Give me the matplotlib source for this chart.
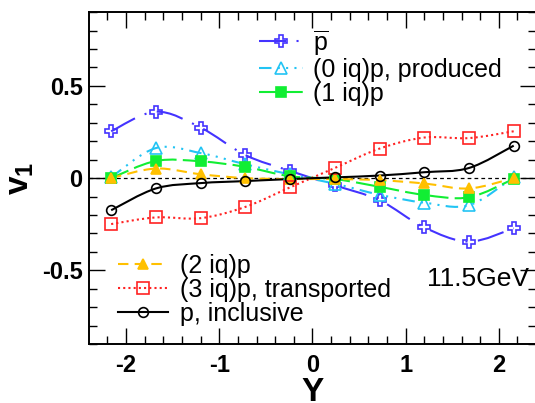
import numpy as np
import matplotlib
matplotlib.use("Agg")
import matplotlib.pyplot as plt
from matplotlib.path import Path
from matplotlib.patches import PathPatch
from matplotlib.lines import Line2D

plt.rcParams['font.family'] = ['Liberation Sans', 'DejaVu Sans']
plt.rcParams['mathtext.fontset'] = 'custom'
plt.rcParams['mathtext.rm'] = 'Liberation Sans'
plt.rcParams['mathtext.bf'] = 'Liberation Sans:bold'

# rapidity bins
rap = [-2.16, -1.68, -1.2, -0.72, -0.24, 0.24, 0.72, 1.2, 1.68, 2.16]

# v1 values
v1_pbar = [0.254, 0.36, 0.274, 0.125, 0.039, -0.039, -0.12, -0.267, -0.344, -0.272]
v1_0iq = [0.005, 0.163, 0.136, 0.075, 0.02, -0.03, -0.09, -0.133, -0.147, 0.005]
v1_1iq = [0.0, 0.093, 0.091, 0.061, 0.01, -0.005, -0.047, -0.091, -0.104, -0.004]
v1_2iq = [0.0, 0.052, 0.021, 0.0, -0.005, -0.005, -0.011, -0.029, -0.056, 0.0]
v1_3iq = [-0.249, -0.213, -0.217, -0.156, -0.05, 0.055, 0.16, 0.22, 0.217, 0.254]
v1_incl = [-0.174, -0.056, -0.027, -0.016, -0.005, 0.004, 0.014, 0.032, 0.055, 0.176]

labels = [r'$\overline{\mathrm{p}}$', '(0 iq)p, produced', '(1 iq)p',
          '(2 iq)p', '(3 iq)p, transported', 'p, inclusive']


def smooth_path(xs, ys):
    # catmull-rom curve through the points, as bezier segments
    p = np.column_stack([xs, ys])
    q = np.vstack([p[0], p, p[-1]])
    verts = [p[0]]
    codes = [Path.MOVETO]
    for i in range(len(p) - 1):
        c1 = q[i + 1] + (q[i + 2] - q[i]) / 6.0
        c2 = q[i + 2] - (q[i + 3] - q[i + 1]) / 6.0
        verts += [c1, c2, q[i + 2]]
        codes += [Path.CURVE4] * 3
    return Path(verts, codes)


fig = plt.figure(figsize=(5.35, 4.03), dpi=100)
ax = fig.add_axes([0.166, 0.146, 0.836, 0.824])

ax.axhline(0, color='black', lw=0.9, ls=(0, (3, 2.5)), zorder=1)

styles = [
    (v1_pbar, '#4433ff', (0, (13, 5, 1, 5)), 'P', 'none', 8),
    (v1_0iq, '#22c4f4', (0, (6, 3, 1, 3, 1, 3, 1, 3)), '^', 'none', 8),
    (v1_1iq, '#11ee33', (0, (9, 3)), 's', '#11ee33', 7),
    (v1_2iq, '#ffc000', (0, (5, 3)), '^', '#ffc000', 7),
    (v1_3iq, '#ff2222', (0, (1, 1.5)), 's', 'none', 8),
    (v1_incl, 'black', '-', 'o', 'none', 7),
]

handles = []
for vals, col, ls, mk, mfc, ms in styles:
    patch = PathPatch(smooth_path(rap, vals), fill=False, edgecolor=col,
                      lw=1.5, ls=ls, zorder=2)
    ax.add_patch(patch)
    ax.plot(rap, vals, ls='none', marker=mk, mfc=mfc, mec=col, mew=1.2,
            ms=ms, zorder=3)
    handles.append(Line2D([], [], color=col, lw=1.5, ls=ls, marker=mk,
                          mfc=mfc, mec=col, mew=1.2, ms=ms))

ax.set_xlim(-2.4, 2.4)
ax.set_ylim(-0.9, 0.9)
ax.set_xticks([-2, -1, 0, 1, 2])
ax.set_xticks(np.arange(-2.2, 2.3, 0.2), minor=True)
ax.set_yticks([-0.5, 0, 0.5])
ax.set_yticklabels(['-0.5', '0', '0.5'])
ax.set_xticklabels(['-2', '-1', '0', '1', '2'])
ax.set_yticks(np.arange(-0.9, 0.95, 0.1), minor=True)
ax.tick_params(which='both', direction='in', top=True, right=True, width=1.0)
ax.tick_params(which='major', length=11.5, labelsize=17)
ax.tick_params(axis='x', which='major', pad=7)
ax.tick_params(axis='y', which='major', pad=4.5)
ax.tick_params(which='minor', length=5.5)
for t in ax.get_xticklabels() + ax.get_yticklabels():
    t.set_fontweight('bold')
for s in ax.spines.values():
    s.set_linewidth(1.4)

ax.set_xlabel('Y', fontsize=24, fontweight='bold')
ax.xaxis.set_label_coords(0.5, -0.1)
ax.set_ylabel(r'$\mathbf{v}_{\mathbf{1}}$', fontsize=24)
ax.yaxis.set_label_coords(-0.118, 0.5)

leg1 = ax.legend(handles[:3], labels[:3], loc='upper left',
                 bbox_to_anchor=(0.342, 1.006), frameon=False, fontsize=18,
                 handlelength=1.76, handletextpad=0.4, labelspacing=0.0,
                 borderpad=0.2)
ax.add_artist(leg1)
ax.legend(handles[3:], labels[3:], loc='upper left',
          bbox_to_anchor=(0.027, 0.325), frameon=False, fontsize=18,
          handlelength=2.0, handletextpad=0.48, labelspacing=0.0,
          borderpad=0.2)

ax.text(0.985, 0.197, '11.5GeV', transform=ax.transAxes, ha='right',
        va='center', fontsize=19)

fig.savefig('out.png', dpi=100)
